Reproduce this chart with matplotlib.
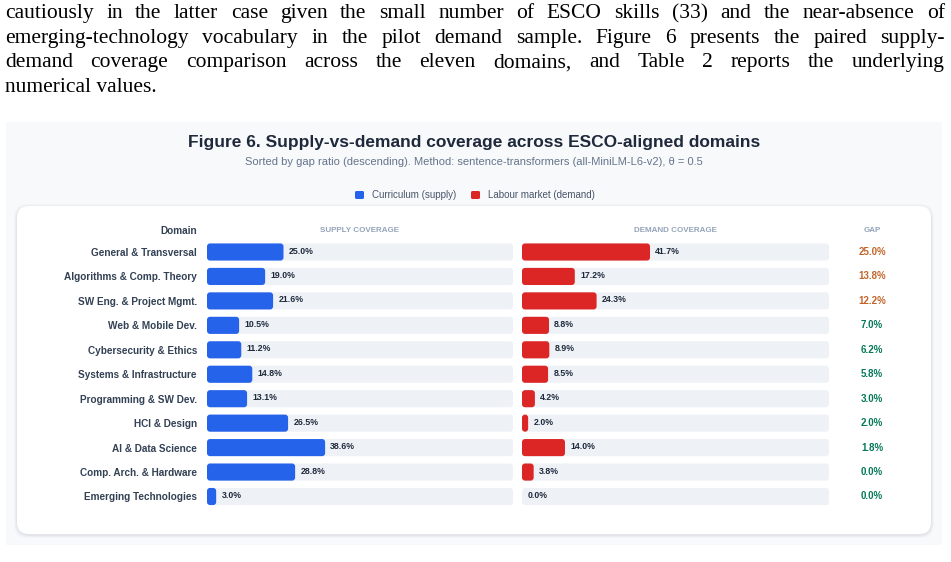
import numpy as np
import matplotlib
matplotlib.use("Agg")
import matplotlib.pyplot as plt
from matplotlib.patches import FancyBboxPatch

# data
domains = ["General & Transversal", "Algorithms & Comp. Theory", "SW Eng. & Project Mgmt.",
           "Web & Mobile Dev.", "Cybersecurity & Ethics", "Systems & Infrastructure",
           "Programming & SW Dev.", "HCI & Design", "AI & Data Science",
           "Comp. Arch. & Hardware", "Emerging Technologies"]
supply = [25.0, 19.0, 21.6, 10.5, 11.2, 14.8, 13.1, 26.5, 38.6, 28.8, 3.0]
demand = [41.7, 17.2, 24.3, 8.8, 8.9, 8.5, 4.2, 2.0, 14.0, 3.8, 0.0]
gap = [25.0, 13.8, 12.2, 7.0, 6.2, 5.8, 3.0, 2.0, 1.8, 0.0, 0.0]

paragraph = [
    "cautiously in the latter case given the small number of ESCO skills (33) and the near-absence of",
    "emerging-technology vocabulary in the pilot demand sample. Figure 6 presents the paired supply-",
    "demand coverage comparison across the eleven domains, and Table 2 reports the underlying",
    "numerical values.",
]

BLUE = "#2563eb"
RED = "#dc2626"
TRACK = "#eef2f7"
ORANGE = "#c2652a"
GREEN = "#047857"
DARK = "#1e293b"
LABEL = "#334155"

W, H = 951, 562
fig = plt.figure(figsize=(W / 100, H / 100), dpi=100)
fig.patch.set_facecolor("white")
SANS = "Liberation Sans"

# background axes in pixel units
bg = fig.add_axes([0, 0, 1, 1])
bg.set_xlim(0, W)
bg.set_ylim(H, 0)
bg.axis("off")

# panel and card
bg.add_patch(FancyBboxPatch((6, 122), 936, 423, boxstyle="square,pad=0",
                            fc="#f8f9fb", ec="none", zorder=0))
for k, a in [(3, 0.02), (2, 0.03), (1, 0.04)]:
    bg.add_patch(FancyBboxPatch((17 - k, 206 - k + 1), 914 + 2 * k, 328 + 2 * k,
                                boxstyle="round,pad=0,rounding_size=14",
                                fc=(0.1, 0.15, 0.25, a), ec="none", zorder=0.5))
bg.add_patch(FancyBboxPatch((17, 206), 914, 328, boxstyle="round,pad=0,rounding_size=12",
                            fc="white", ec="none", zorder=1))

# justified paragraph
renderer = fig.canvas.get_renderer()
left, right = 5, 945
PSIZE = 15.5
for i, line in enumerate(paragraph):
    yb = 18 + i * 24.6
    words = line.split(" ")
    if i == len(paragraph) - 1:
        bg.text(left, yb, line, fontsize=PSIZE, family="Liberation Serif", color="black",
                va="baseline", ha="left")
        continue
    objs = [bg.text(0, yb, w, fontsize=PSIZE, family="Liberation Serif", color="black",
                    va="baseline", ha="left") for w in words]
    widths = [o.get_window_extent(renderer).width for o in objs]
    space = (right - left - sum(widths)) / (len(words) - 1)
    x = left
    for o, w in zip(objs, widths):
        o.set_x(x)
        x += w + space

# titles
bg.text(474, 142, "Figure 6. Supply-vs-demand coverage across ESCO-aligned domains",
        ha="center", va="center", fontsize=12.5, fontweight="bold", color="#1e293b", family=SANS)
bg.text(474, 162, "Sorted by gap ratio (descending). Method: sentence-transformers (all-MiniLM-L6-v2), θ = 0.5",
        ha="center", va="center", fontsize=8, color="#64748b", family=SANS)

# legend
for x0, c, lab in [(355, BLUE, "Curriculum (supply)"), (471, RED, "Labour market (demand)")]:
    bg.add_patch(FancyBboxPatch((x0, 191), 9, 8, boxstyle="round,pad=0,rounding_size=1.5",
                                fc=c, ec="none", zorder=2))
    bg.text(x0 + 17, 195, lab, ha="left", va="center", fontsize=7, color="#475569", family=SANS)

# headers
bg.text(197, 231, "Domain", ha="right", va="center", fontsize=7.2, fontweight="bold",
        color=LABEL, family=SANS, zorder=3)
for xc, lab in [(360, "SUPPLY COVERAGE"), (675, "DEMAND COVERAGE"), (872, "GAP")]:
    bg.text(xc, 231, lab, ha="center", va="center", fontsize=5.8, fontweight="bold",
            color="#94a3b8", family=SANS, zorder=3)

# bar axes
y = np.arange(len(domains))
row0, step = 252, 24.45
top_px = row0 - step / 2
bot_px = row0 + step * (len(domains) - 0.5)


def rounded(ax, patches, color):
    for p in patches:
        x0, y0 = p.get_x(), p.get_y()
        w, h = p.get_width(), p.get_height()
        p.set_visible(False)
        if w <= 0:
            continue
        r = min(1.0, w / 2)
        ax.add_patch(FancyBboxPatch((x0, y0), w, h,
                                    boxstyle=f"round,pad=0,rounding_size={r}",
                                    mutation_aspect=0.125, fc=color, ec="none",
                                    zorder=p.get_zorder()))


def bar_axes(x_left, x_right, values, color):
    ax = fig.add_axes([x_left / W, 1 - bot_px / H, (x_right - x_left) / W, (bot_px - top_px) / H])
    ax.set_xlim(0, 100)
    ax.set_ylim(len(domains) - 0.5, -0.5)
    ax.patch.set_alpha(0)
    for s in ax.spines.values():
        s.set_visible(False)
    ax.set_xticks([])
    tr = ax.barh(y, [100] * len(y), height=0.7, color=TRACK, zorder=1)
    rounded(ax, tr.patches, TRACK)
    br = ax.barh(y, values, height=0.7, color=color, zorder=2)
    rounded(ax, br.patches, color)
    for yi, v in zip(y, values):
        ax.text(v + 1.7, yi - 0.04, f"{v:.1f}%", ha="left", va="center", fontsize=6.3,
                fontweight="bold", color=DARK, family=SANS, zorder=3)
    return ax


ax_s = bar_axes(207, 513, supply, BLUE)
ax_s.set_yticks(y, domains)
ax_s.tick_params(axis="y", length=0, pad=7.2)
for t in ax_s.get_yticklabels():
    t.set_fontsize(7.2)
    t.set_fontweight("bold")
    t.set_color(LABEL)
    t.set_family(SANS)

ax_d = bar_axes(522, 829, demand, RED)
ax_d.set_yticks([])
for yi, g in zip(y, gap):
    ax_d.text(114, yi, f"{g:.1f}%", ha="center", va="center", fontsize=7, fontweight="bold",
              color=ORANGE if g >= 10 else GREEN, family=SANS, clip_on=False)

fig.savefig("out.png", dpi=100, facecolor="white")
